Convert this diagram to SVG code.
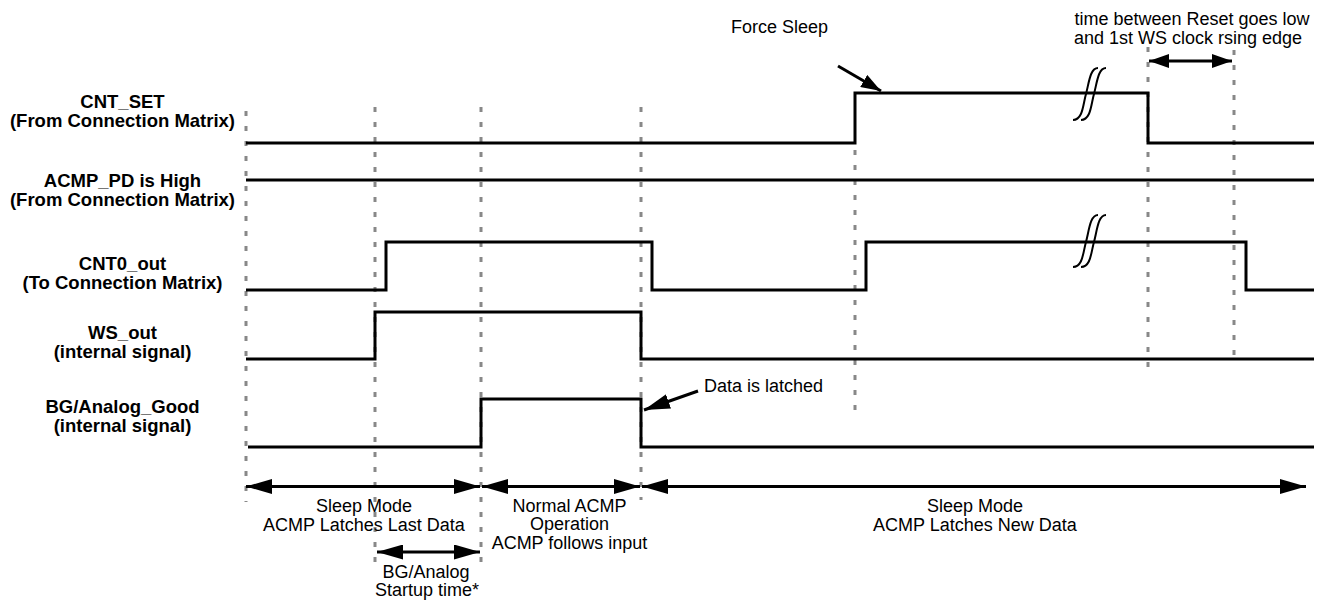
<svg xmlns="http://www.w3.org/2000/svg" width="1323" height="602" viewBox="0 0 1323 602">
<style>
.lbl{font-family:"Liberation Sans",Arial,sans-serif;font-size:18.5px;font-weight:bold;fill:#000;text-anchor:middle}
.txt{font-family:"Liberation Sans",Arial,sans-serif;font-size:18px;fill:#000}
.mid{text-anchor:middle}
.sig{fill:none;stroke:#000;stroke-width:3;stroke-linejoin:miter}
.grid{fill:none;stroke:#888;stroke-width:3;stroke-dasharray:5 10}
.brk{fill:none;stroke:#000;stroke-width:2}
.arr{fill:none;stroke:#000;stroke-width:3}
</style>
<defs>
<marker id="ah" viewBox="0 0 26 15" markerWidth="26" markerHeight="15" refX="26" refY="7.5" markerUnits="userSpaceOnUse" orient="auto-start-reverse">
<path d="M0,0 L26,7.5 L0,15 z" fill="#000"/>
</marker>
<marker id="ahs" viewBox="0 0 20 14" markerWidth="20" markerHeight="14" refX="20" refY="7" markerUnits="userSpaceOnUse" orient="auto-start-reverse">
<path d="M0,0 L20,7 L0,14 z" fill="#000"/>
</marker>
</defs>
<rect width="1323" height="602" fill="#fff"/>
<g id="gridlines">
<line class="grid" x1="246" y1="111" x2="246" y2="502"/>
<line class="grid" x1="375" y1="107" x2="375" y2="570"/>
<line class="grid" x1="481" y1="107" x2="481" y2="570"/>
<line class="grid" x1="641" y1="107" x2="641" y2="500"/>
<line class="grid" x1="855" y1="150" x2="855" y2="410"/>
<line class="grid" x1="1148" y1="47" x2="1148" y2="368"/>
<line class="grid" x1="1234" y1="50" x2="1234" y2="363"/>
</g>
<g id="cnt_set">
<text class="lbl" x="122.5" y="108">CNT_SET</text>
<text class="lbl" x="122.5" y="127">(From Connection Matrix)</text>
<path class="sig" d="M246,143 H855 V93 H1148 V143 H1314"/>
<path class="brk" d="M1073,120 C1083,120 1083,104 1086,94 C1089,83 1090,68 1098,68"/>
<path class="brk" d="M1081,120 C1091,120 1091,104 1094,94 C1097,83 1098,68 1106,68"/>
</g>
<g id="acmp_pd">
<text class="lbl" x="122.5" y="187">ACMP_PD is High</text>
<text class="lbl" x="122.5" y="206">(From Connection Matrix)</text>
<path class="sig" d="M246,180 H1314"/>
</g>
<g id="cnt0_out">
<text class="lbl" x="122.5" y="270">CNT0_out</text>
<text class="lbl" x="122.5" y="289">(To Connection Matrix)</text>
<path class="sig" d="M246,290 H386 V242 H652 V290 H866 V242 H1246 V290 H1314"/>
<path class="brk" d="M1073,267 C1083,267 1083,252 1086,242 C1089,231 1090,215 1098,215"/>
<path class="brk" d="M1081,267 C1091,267 1091,252 1094,242 C1097,231 1098,215 1106,215"/>
</g>
<g id="ws_out">
<text class="lbl" x="122.5" y="339">WS_out</text>
<text class="lbl" x="122.5" y="358">(internal signal)</text>
<path class="sig" d="M246,359 H375 V312 H641 V359 H1314"/>
</g>
<g id="bg_analog_good">
<text class="lbl" x="122.5" y="413">BG/Analog_Good</text>
<text class="lbl" x="122.5" y="432">(internal signal)</text>
<path class="sig" d="M248,447 H481 V399 H641 V447 H1314"/>
</g>
<g id="annotations">
<text class="txt" x="731" y="33">Force Sleep</text>
<text class="txt" x="704" y="392">Data is latched</text>
<text class="txt mid" x="1192" y="25">time between Reset goes low</text>
<text class="txt mid" x="1188" y="44">and 1st WS clock rsing edge</text>
<text class="txt mid" x="364" y="512">Sleep Mode</text>
<text class="txt mid" x="364" y="531">ACMP Latches Last Data</text>
<text class="txt mid" x="569.5" y="512">Normal ACMP</text>
<text class="txt mid" x="569.5" y="530">Operation</text>
<text class="txt mid" x="569.5" y="549">ACMP follows input</text>
<text class="txt mid" x="975" y="512">Sleep Mode</text>
<text class="txt mid" x="975" y="531">ACMP Latches New Data</text>
<text class="txt mid" x="426" y="578">BG/Analog</text>
<text class="txt mid" x="427" y="596">Startup time*</text>
</g>
<g id="connectors">
<line class="arr" x1="246" y1="486.5" x2="480" y2="486.5" marker-start="url(#ah)" marker-end="url(#ah)"/>
<line class="arr" x1="482" y1="486.5" x2="640" y2="486.5" marker-start="url(#ah)" marker-end="url(#ah)"/>
<line class="arr" x1="642" y1="486.5" x2="1306" y2="486.5" marker-start="url(#ah)" marker-end="url(#ah)"/>
<line class="arr" x1="377" y1="552" x2="480" y2="552" marker-start="url(#ah)" marker-end="url(#ah)"/>
<line class="arr" x1="1149" y1="61" x2="1232" y2="61" marker-start="url(#ahs)" marker-end="url(#ahs)"/>
<line class="arr" x1="838" y1="66" x2="881" y2="91" marker-end="url(#ahs)"/>
<line class="arr" x1="698" y1="391" x2="644" y2="410" marker-end="url(#ah)"/>
</g>
</svg>
